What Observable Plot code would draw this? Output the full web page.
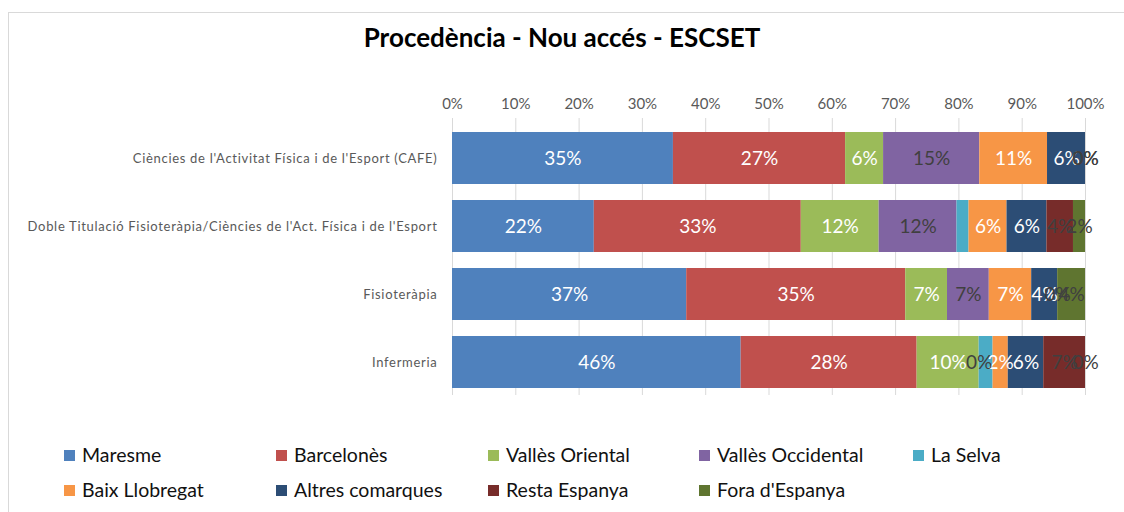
<!DOCTYPE html>
<html><head><meta charset="utf-8">
<script src="https://cdn.jsdelivr.net/npm/d3@7"></script>
<script src="https://cdn.jsdelivr.net/npm/@observablehq/plot@0.6"></script>
<style>
body{margin:0;background:#fff;font-family:Lato,"Open Sans",sans-serif;}
#wrap{position:relative;width:1124px;height:512px;overflow:hidden;background:#fff;}
#frame{position:absolute;left:8px;top:12px;width:1200px;height:600px;border:1px solid #d9d9d9;}
#title{position:absolute;left:0;width:1124px;top:22px;line-height:30px;text-align:center;font-weight:bold;font-size:26px;color:#000;}
#chart{position:absolute;left:0;top:0;}
#chart g[aria-label="y-axis tick label"] text{letter-spacing:0.7px;}
.lg{position:absolute;font-size:19.5px;color:#111;white-space:nowrap;line-height:22px;padding-left:18px;}
.sw{position:absolute;left:0;top:6px;width:11px;height:11px;}
</style></head>
<body><div id="wrap"><div id="frame"></div><div id="title">Procedència - Nou accés - ESCSET</div><div id="chart"></div><div id="legend"></div></div>
<script>
const programs = [
  "Ciències de l'Activitat Física i de l'Esport (CAFE)",
  "Doble Titulació Fisioteràpia/Ciències de l'Act. Física i de l'Esport",
  "Fisioteràpia",
  "Infermeria"
];
const regions = ["Maresme","Barcelonès","Vallès Oriental","Vallès Occidental","La Selva","Baix Llobregat","Altres comarques","Resta Espanya","Fora d'Espanya"];
const colors = ["#4F81BD","#C0504D","#9BBB59","#8064A2","#4BACC6","#F79646","#2C4D75","#772C2A","#5F7530"];
// percent values per region, in program order
const maresme          = [34.9, 22.4, 37.0, 45.6];
const barcelones       = [27.2, 32.7, 34.6, 27.8];
const vallesOriental   = [6.0, 12.3, 6.6, 9.8];
const vallesOccidental = [15.2, 12.3, 6.6, 0];
const laSelva          = [0, 1.9, 0, 2.2];
const baixLlobregat    = [10.7, 6.0, 6.7, 2.4];
const altresComarques  = [6.0, 6.3, 4.1, 5.6];
const restaEspanya     = [0, 4.2, 0, 6.6];
const foraEspanya      = [0, 1.9, 4.4, 0];
const xTicks = [0,10,20,30,40,50,60,70,80,90,100];
const darkLabelRegions = ["Vallès Occidental","Resta Espanya","Fora d'Espanya"];
const hiddenLabelRegions = ["La Selva"];
// zero values that still carry a "0%" label in the original
const zeroLabels = [
  ["Infermeria","Vallès Occidental"],
  ["Ciències de l'Activitat Física i de l'Esport (CAFE)","Resta Espanya"],
  ["Ciències de l'Activitat Física i de l'Esport (CAFE)","Fora d'Espanya"],
  ["Fisioteràpia","Resta Espanya"],
  ["Infermeria","Fora d'Espanya"]
];

const series = [maresme,barcelones,vallesOriental,vallesOccidental,laSelva,baixLlobregat,altresComarques,restaEspanya,foraEspanya];
const data = [];
programs.forEach((p,i)=>regions.forEach((r,j)=>data.push({program:p, region:r, value:series[j][i]})));

function labelOf(d){
  if (hiddenLabelRegions.includes(d.region)) return null;
  if (d.value === 0 && !zeroLabels.some(([p,r])=>p===d.program && r===d.region)) return null;
  return Math.round(d.value) + "%";
}

const chart = Plot.plot({
  width:1124, height:420,
  marginTop:118, marginBottom:25, marginLeft:452, marginRight:39,
  style:{fontFamily:"Lato, 'Open Sans', sans-serif", background:"transparent"},
  x:{domain:[0,100]},
  y:{domain:programs, paddingInner:0.239, paddingOuter:0.147, align:0.65},
  color:{domain:regions, range:colors},
  marks:[
    Plot.gridX(xTicks,{stroke:"#d9d9d9", strokeOpacity:1, strokeWidth:1}),
    Plot.axisX(xTicks,{anchor:"top", tickSize:0, tickPadding:10, tickFormat:d=>d+"%", fontSize:15, fill:"#595959", label:null}),
    Plot.axisY({anchor:"left", tickSize:0, tickPadding:15, fontSize:13, fill:"#595959", label:null}),
    Plot.barX(data, Plot.stackX({x:"value", y:"program", fill:"region", order:regions})),
    Plot.text(data, Plot.stackX({x:"value", y:"program", z:"region", order:regions,
      text:d=> darkLabelRegions.includes(d.region) ? null : labelOf(d),
      fill:"#ffffff", fontSize:19})),
    Plot.text(data, Plot.stackX({x:"value", y:"program", z:"region", order:regions,
      text:d=> darkLabelRegions.includes(d.region) ? labelOf(d) : null,
      fill:"#404040", fontSize:19}))
  ]
});
document.getElementById("chart").appendChild(chart);

// legend
const legendCols = [64, 276, 488, 699, 913];
const legendRows = [455, 490];
const lg = document.getElementById("legend");
regions.forEach((r,i)=>{
  const row = i < 5 ? 0 : 1;
  const col = i < 5 ? i : i - 5;
  const el = document.createElement("div");
  el.className = "lg";
  el.style.left = legendCols[col] + "px";
  el.style.top = (legendRows[row] - 11) + "px";
  const sw = document.createElement("span");
  sw.className = "sw";
  sw.style.background = colors[i];
  el.appendChild(sw);
  el.appendChild(document.createTextNode(r));
  lg.appendChild(el);
});
</script>
</body></html>
